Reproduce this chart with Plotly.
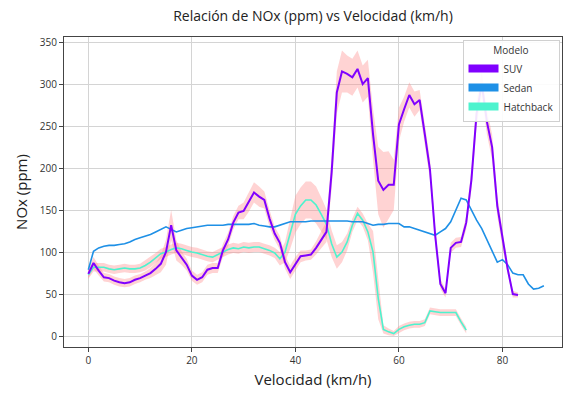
import plotly.graph_objects as go

# NOx emissions (ppm) per vehicle model, sampled at each km/h
vel_suv = list(range(0, 84))
nox_suv = [74, 87, 78, 70, 69, 66, 64, 63, 64, 67, 69, 72, 75, 80, 86, 100, 132, 102, 93, 85,
           72, 67, 70, 79, 81, 81, 102, 115, 135, 147, 149, 160, 171, 166, 162, 140, 122, 111, 88, 76,
           86, 95, 96, 97, 105, 115, 124, 195, 290, 315, 312, 308, 318, 300, 307, 240, 185, 174, 180, 180,
           252, 270, 287, 276, 281, 240, 198, 120, 62, 51, 105, 111, 112, 135, 186, 265, 300, 255, 225, 155,
           115, 80, 50, 49]
ci_suv = [5, 7, 6, 5, 5, 5, 5, 5, 5, 5, 5, 5, 6, 7, 10, 15, 18, 12, 8, 7,
          6, 6, 6, 6, 6, 6, 8, 8, 8, 8, 10, 12, 12, 12, 10, 10, 8, 8, 8, 8,
          8, 7, 6, 6, 8, 10, 12, 20, 25, 25, 22, 22, 22, 22, 22, 30, 40, 45, 40, 30,
          20, 15, 15, 15, 12, 12, 12, 10, 6, 5, 6, 6, 6, 8, 12, 15, 15, 15, 15, 12,
          10, 6, 4, 3]

vel_sedan = list(range(0, 89))
nox_sedan = [79, 101, 105, 107, 108, 108, 109, 110, 112, 115, 117, 119, 121, 124, 127, 130, 127, 124, 126, 128,
             129, 130, 131, 132, 132, 132, 132, 133, 133, 133, 133, 133, 134, 132, 131, 130, 130, 132, 134, 136,
             136, 136, 136, 137, 137, 137, 137, 137, 137, 137, 137, 136, 136, 136, 134, 132, 133, 133, 134, 134,
             134, 130, 130, 128, 126, 124, 122, 120, 124, 128, 136, 150, 164, 162, 150, 138, 128, 115, 100, 88,
             91, 85, 75, 73, 73, 62, 56, 57, 60]

vel_hatch = list(range(0, 74))
nox_hatch = [73, 82, 82, 82, 80, 79, 80, 81, 80, 80, 81, 84, 88, 93, 98, 100, 103, 105, 104, 102,
             100, 99, 97, 95, 94, 97, 100, 103, 105, 104, 106, 105, 106, 106, 104, 102, 99, 92, 100, 122,
             145, 155, 162, 162, 156, 145, 133, 110, 94, 100, 112, 132, 146, 138, 124, 100, 45, 8, 5, 3,
             8, 11, 13, 14, 14, 16, 30, 29, 28, 28, 28, 28, 17, 7]
ci_hatch = [5, 5, 5, 5, 5, 5, 5, 5, 5, 5, 5, 6, 6, 6, 6, 6, 6, 6, 6, 6,
            6, 6, 6, 6, 6, 6, 6, 6, 6, 6, 6, 6, 6, 6, 6, 6, 6, 8, 12, 18,
            22, 22, 22, 22, 22, 20, 18, 16, 14, 12, 10, 8, 8, 8, 10, 25, 25, 5, 4, 3,
            4, 4, 4, 4, 4, 4, 4, 4, 4, 4, 4, 4, 4, 4]

modelos = ["SUV", "Sedan", "Hatchback"]
colores = {"SUV": "#8000ff", "Sedan": "#1e90e6", "Hatchback": "#4df3ce"}
band_color = "rgba(255,140,140,0.38)"

fig = go.Figure()


def add_band(x, y, ci):
    upper = [v + c for v, c in zip(y, ci)]
    lower = [v - c for v, c in zip(y, ci)]
    fig.add_trace(go.Scatter(x=x, y=upper, mode="lines", line=dict(width=0),
                             hoverinfo="skip", showlegend=False))
    fig.add_trace(go.Scatter(x=x, y=lower, mode="lines", line=dict(width=0),
                             fill="tonexty", fillcolor=band_color,
                             hoverinfo="skip", showlegend=False))


add_band(vel_suv, nox_suv, ci_suv)
add_band(vel_hatch, nox_hatch, ci_hatch)

series = {
    "SUV": (vel_suv, nox_suv, 2.0),
    "Sedan": (vel_sedan, nox_sedan, 1.6),
    "Hatchback": (vel_hatch, nox_hatch, 1.6),
}
for m in ["Hatchback", "Sedan", "SUV"]:
    x, y, w = series[m]
    fig.add_trace(go.Scatter(x=x, y=y, mode="lines", name=m,
                             line=dict(color=colores[m], width=w), showlegend=False))

# legend entries drawn as thick colour swatches
for m in modelos:
    fig.add_trace(go.Scatter(x=[None], y=[None], mode="lines", name=m,
                             line=dict(color=colores[m], width=8)))

font = "Open Sans, DejaVu Sans, sans-serif"
axis_common = dict(
    showgrid=True, gridcolor="#d4d4d4", gridwidth=1,
    showline=True, linecolor="#444", linewidth=1.2, mirror=True,
    ticks="outside", ticklen=4, tickcolor="#444",
    tickfont=dict(size=10, color="#333", family=font),
    zeroline=False,
)

fig.update_layout(
    width=567, height=399,
    margin=dict(l=64, r=5, t=37, b=52),
    paper_bgcolor="white", plot_bgcolor="white",
    title=dict(text="Relación de NOx (ppm) vs Velocidad (km/h)",
               x=0.552, xanchor="center", y=0.96, yanchor="middle",
               font=dict(size=14, color="#222", family=font)),
    xaxis=dict(range=[-4.7, 91.5], tickvals=[0, 20, 40, 60, 80],
               title=dict(text="Velocidad (km/h)", font=dict(size=15, color="#222", family=font),
                          standoff=8),
               **axis_common),
    yaxis=dict(range=[-13, 356], tickvals=[0, 50, 100, 150, 200, 250, 300, 350],
               title=dict(text="NOx (ppm)", font=dict(size=15, color="#222", family=font),
                          standoff=8),
               **axis_common),
    legend=dict(
        x=0.995, y=0.99, xanchor="right", yanchor="top",
        traceorder="normal",
        bgcolor="rgba(255,255,255,0.9)", bordercolor="#d0d0d0", borderwidth=1,
        font=dict(size=10, color="#333", family=font),
        title=dict(text="Modelo", side="top center", font=dict(size=10, color="#333", family=font)),
        tracegroupgap=0, itemwidth=30,
    ),
)

fig.write_html("out.html")
